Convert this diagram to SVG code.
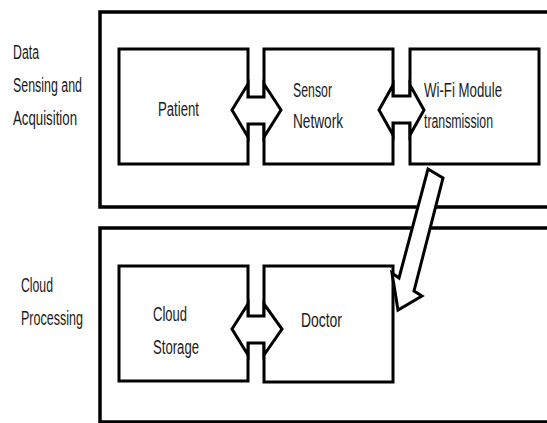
<svg xmlns="http://www.w3.org/2000/svg" width="547" height="423" viewBox="0 0 547 423">
  <style>
    .outer { fill: none; stroke: #000; stroke-width: 3.5; }
    .box { fill: #fff; stroke: #000; stroke-width: 3; }
    .arrow { fill: #fff; stroke: #000; stroke-width: 3; stroke-linejoin: miter; }
    .lbl { font-family: "Liberation Sans", Arial, sans-serif; font-size: 20px; fill: #1a1a1a; }
  </style>
  <rect width="547" height="423" fill="#fff"/>

  <g id="group-sensing">
    <rect class="outer" x="100" y="12" width="460" height="195"/>
    <text class="lbl" x="13" y="59" textLength="26" lengthAdjust="spacingAndGlyphs">Data</text>
    <text class="lbl" x="13" y="92" textLength="69" lengthAdjust="spacingAndGlyphs">Sensing and</text>
    <text class="lbl" x="13" y="125" textLength="64" lengthAdjust="spacingAndGlyphs">Acquisition</text>
  </g>

  <g id="group-cloud">
    <rect class="outer" x="100" y="228" width="460" height="194"/>
    <text class="lbl" x="21" y="292" textLength="32" lengthAdjust="spacingAndGlyphs">Cloud</text>
    <text class="lbl" x="21" y="325" textLength="62" lengthAdjust="spacingAndGlyphs">Processing</text>
  </g>

  <g id="patient">
    <rect class="box" x="119" y="49" width="129" height="115"/>
    <text class="lbl" x="158" y="116" textLength="41" lengthAdjust="spacingAndGlyphs">Patient</text>
  </g>
  <g id="sensor-network">
    <rect class="box" x="264" y="49" width="129" height="115"/>
    <text class="lbl" x="293" y="97" textLength="39" lengthAdjust="spacingAndGlyphs">Sensor</text>
    <text class="lbl" x="293" y="128" textLength="50" lengthAdjust="spacingAndGlyphs">Network</text>
  </g>
  <g id="wifi-module">
    <rect class="box" x="410" y="49" width="129" height="115"/>
    <text class="lbl" x="424" y="97" textLength="78" lengthAdjust="spacingAndGlyphs">Wi-Fi Module</text>
    <text class="lbl" x="424" y="128" textLength="69" lengthAdjust="spacingAndGlyphs">transmission</text>
  </g>
  <g id="cloud-storage">
    <rect class="box" x="119" y="266" width="129" height="115"/>
    <text class="lbl" x="153" y="321" textLength="34" lengthAdjust="spacingAndGlyphs">Cloud</text>
    <text class="lbl" x="153" y="354" textLength="46" lengthAdjust="spacingAndGlyphs">Storage</text>
  </g>
  <g id="doctor">
    <rect class="box" x="264" y="266" width="129" height="116"/>
    <text class="lbl" x="301" y="327" textLength="41" lengthAdjust="spacingAndGlyphs">Doctor</text>
  </g>

  <g id="connectors">
    <polygon class="arrow" points="232,110 248,84 248,97 264,97 264,84 281,110 264,137 264,124 248,124 248,137"/>
    <polygon class="arrow" points="379,110 393,85 393,96 410,96 410,85 424,110 410,135 410,123 393,123 393,135"/>
    <polygon class="arrow" points="232,329 248,304 248,316 264,316 264,304 282,329 264,355 264,343 248,343 248,355"/>
    <polygon class="arrow" points="428,169 443,178 414,291 422,296 398,310 392,273 399,278"/>
  </g>
</svg>
